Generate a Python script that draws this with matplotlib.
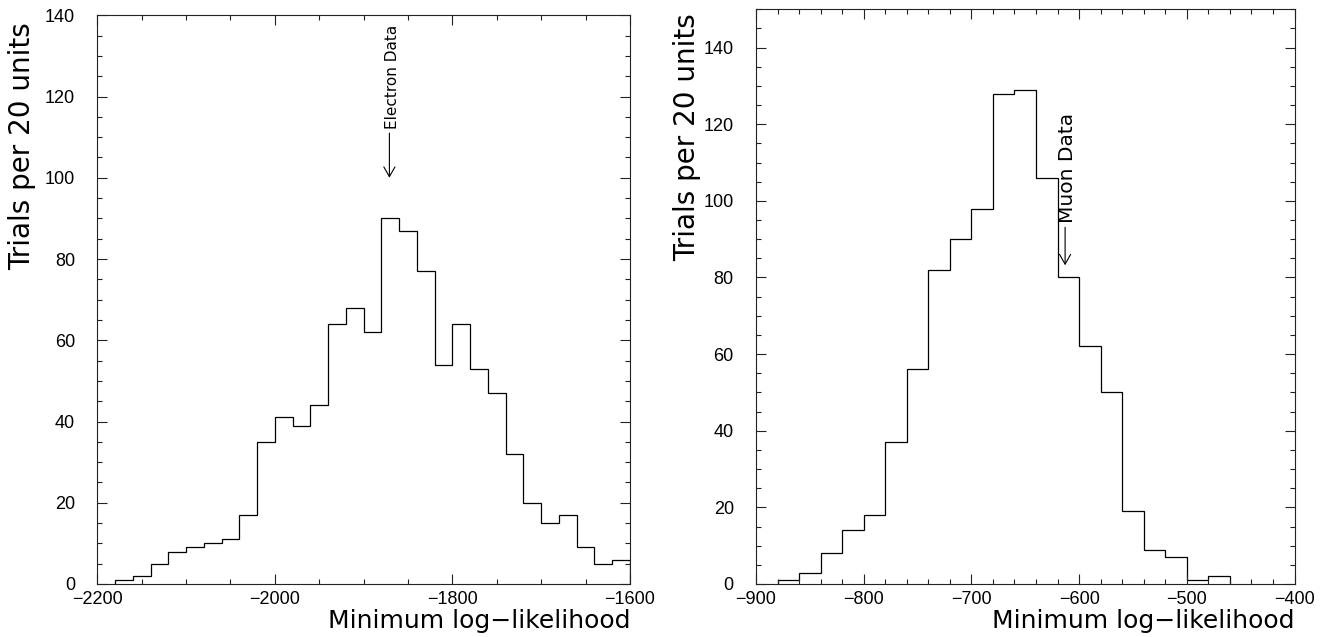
import numpy as np
import matplotlib
matplotlib.use("Agg")
import matplotlib.pyplot as plt
from matplotlib.ticker import MultipleLocator

# ---- data ----
electron_counts = [1, 2, 5, 8, 9, 10, 11, 17, 35, 41, 39, 44, 64, 68, 62,
                   90, 87, 77, 54, 64, 53, 47, 32, 20, 15, 17, 9, 5, 6]
electron_first_edge = -2180
muon_counts = [1, 3, 8, 14, 18, 37, 56, 82, 90, 98, 128, 129, 106, 80, 62,
               50, 19, 9, 7, 1, 2]
muon_first_edge = -880
bin_width = 20

electron_data_x = -1871
muon_data_x = -613

xlabel_text = "Minimum log\u2212likelihood"
ylabel_text = "Trials per 20 units"

W, H = 1332, 637
fig = plt.figure(figsize=(W / 100, H / 100), dpi=100)


def px_axes(x0, x1, ytop, ybot):
    return [x0 / W, (H - ybot) / H, (x1 - x0) / W, (ybot - ytop) / H]


axL = fig.add_axes(px_axes(97.3, 630.0, 15.3, 584.0))
axR = fig.add_axes(px_axes(756.0, 1294.5, 9.3, 584.0))


def style(ax, xlim, ylim, xmaj, xmin, ymaj, ymin, ylab_coords, xlab_y):
    ax.set_xlim(*xlim)
    ax.set_ylim(*ylim)
    ax.xaxis.set_major_locator(MultipleLocator(xmaj))
    ax.xaxis.set_minor_locator(MultipleLocator(xmin))
    ax.yaxis.set_major_locator(MultipleLocator(ymaj))
    ax.yaxis.set_minor_locator(MultipleLocator(ymin))
    ax.tick_params(which="both", direction="in", top=True, right=True,
                   width=0.8, color="#222222")
    ax.tick_params(which="major", length=7.2)
    ax.tick_params(which="minor", length=3.6)
    ax.tick_params(axis="x", which="major", pad=5)
    ax.tick_params(axis="y", which="major", pad=16)
    for lab in ax.get_xticklabels() + ax.get_yticklabels():
        lab.set_fontfamily("Liberation Sans")
        lab.set_fontsize(13)
    for sp in ax.spines.values():
        sp.set_linewidth(0.8)
        sp.set_color("#222222")
    ax.set_xlabel(xlabel_text, fontsize=18, loc="right")
    ax.xaxis.set_label_coords(1.0, xlab_y)
    ax.set_ylabel(ylabel_text, fontsize=20, loc="top")
    ax.yaxis.set_label_coords(*ylab_coords)


# left histogram (electron)
e_edges = electron_first_edge + bin_width * np.arange(len(electron_counts) + 1)
axL.stairs(electron_counts, e_edges, baseline=0, color="black", lw=0.9)
style(axL, (-2200, -1600), (0, 140), 200, 50, 20, 5,
      ((36 - 97.3) / 532.7, (584 - 22) / 568.7), -0.044)

# right histogram (muon)
m_edges = muon_first_edge + bin_width * np.arange(len(muon_counts) + 1)
axR.stairs(muon_counts, m_edges, baseline=0, color="black", lw=0.9)
style(axR, (-900, -400), (0, 150), 100, 20, 20, 5,
      ((701 - 756) / 538.5, (584 - 13) / 574.7), -0.0435)

arrow = dict(arrowstyle="->,head_length=0.7,head_width=0.4", lw=0.8,
             color="black", shrinkA=0, shrinkB=0)

axL.annotate("", xy=(electron_data_x, 100), xytext=(electron_data_x, 111),
             arrowprops=arrow)
axL.text(electron_data_x + 3, 112, "Electron Data", rotation=90,
         ha="center", va="bottom", fontsize=11)

axR.annotate("", xy=(muon_data_x, 83.2), xytext=(muon_data_x, 93.1),
             arrowprops=arrow)
axR.text(muon_data_x + 2, 94.3, "Muon Data", rotation=90,
         ha="center", va="bottom", fontsize=14.5)

fig.savefig("out.png", dpi=100)
